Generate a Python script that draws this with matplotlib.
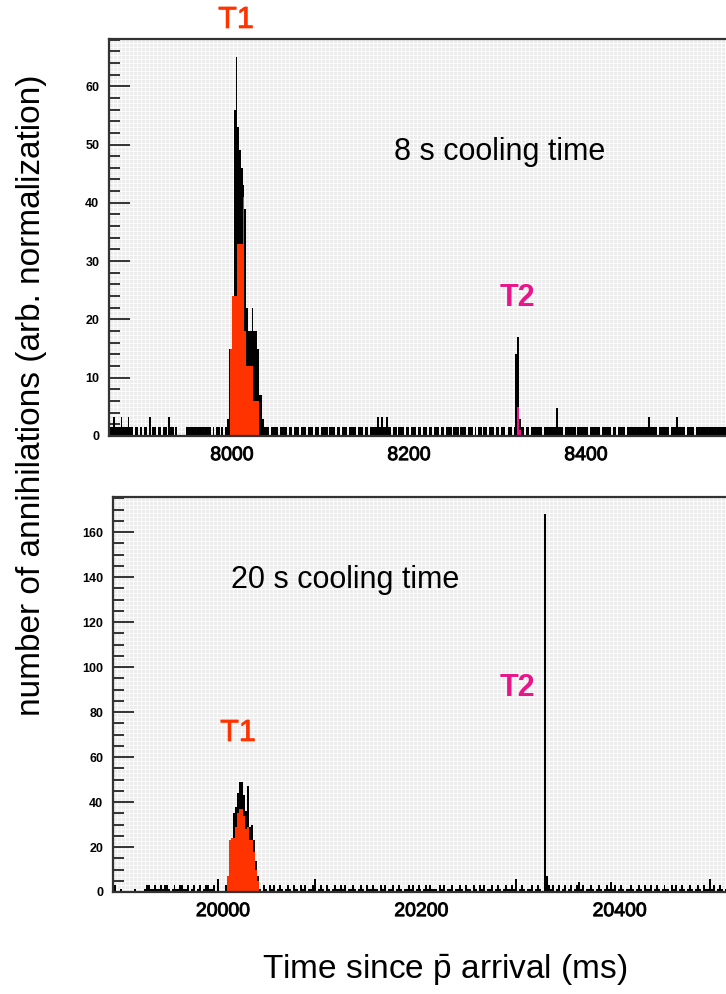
import numpy as np
import matplotlib
matplotlib.use("Agg")
import matplotlib.pyplot as plt
import matplotlib.patheffects as pe
from matplotlib.ticker import MultipleLocator

plt.rcParams["font.family"] = ["Liberation Sans", "DejaVu Sans"]
plt.rcParams["mathtext.fontset"] = "custom"
plt.rcParams["mathtext.rm"] = "Liberation Sans"

BIN_MS = 2.0

# ---- 8 s cooling time (top panel), 2 ms bins from TOP_START ----
TOP_START = 7860
TOP_NBINS = 350
TOP_NOISE_UNIT = 1.6
TOP_NOISE = [
    "21121112111211011010110201101101102110100000111111",
    "11111111010110101000000000000000000000111011110111",
    "10110111011101110110111101110110111011110111011011",
    "11212112110110111011011101101101101110110111011101",
    "11011101011011011101101100110100011011011111101111",
    "11131110111111011111101111110111110110111101111111",
    "11111211110111111011121111011110111111111111111111",
]
TOP_T1_START = 7994
TOP_T1_TOTAL = [3, 15, 15, 24, 56, 65, 53, 49, 46, 43, 39, 22, 18, 18, 22, 18, 18, 15, 7, 7, 3]
TOP_T1_TAG_START = 7998
TOP_T1_TAG = [15, 24, 24, 24, 33, 33, 33, 41, 18, 12, 12, 12, 12, 6, 6, 6]
TOP_T2_START = 8320
TOP_T2_TOTAL = [14, 17, 3]
TOP_T2_TAG_START = 8322
TOP_T2_TAG = [5, 1]

# ---- 20 s cooling time (bottom panel), 2 ms bins from BOT_START ----
BOT_START = 19888
BOT_NBINS = 310
BOT_NOISE_UNIT = 1.5
BOT_NOISE = [
    "0200100000" "0100001221" "1211212210" "1211221120" "1201201221",
    "1204000000" "0000000000" "0000102102" "1201210121" "0211021201",
    "1240121021" "0121121201" "1210121021" "1211021201" "1201210112",
    "1201210121" "2111021201" "1201121021" "1021021201" "1201210121",
    "1214012101" "1201210000" "0120120120" "1201231201" "1210121012",
    "1312012101" "1210121021" "1201210121" "1021201210" "1210121021",
    "1412012101",
]
BOT_T1_START = 20002
BOT_T1_TOTAL = [3, 7, 23, 24, 35, 38, 44, 49, 49, 43, 36, 47, 29, 30, 23, 14, 7]
BOT_T1_TAG_START = 20004
BOT_T1_TAG = [7, 23, 24, 24, 29, 35, 37, 37, 34, 28, 29, 23, 23, 18, 10, 5]
BOT_T2_START = 20324
BOT_T2_TOTAL = [168, 7, 3]

RED = "#ff3300"
MAGENTA = "#e8168a"
W, H = 726, 994


def build_counts(start, nbins, noise, unit, peaks):
    digits = [int(c) for c in "".join(noise)][:nbins]
    counts = np.zeros(nbins)
    counts[:len(digits)] = np.array(digits, float) * unit
    for p_start, p_vals in peaks:
        i = int(round((p_start - start) / BIN_MS))
        counts[i:i + len(p_vals)] = p_vals
    edges = start + BIN_MS * np.arange(nbins + 1)
    return counts, edges


def tagged(start, vals):
    edges = start + BIN_MS * np.arange(len(vals) + 1)
    return np.array(vals, float), edges


def add_texture(ax, w_px, h_px, step=4):
    tex = np.full((h_px, w_px), 0.925)
    tex[::step, :] = 0.985
    tex[:, ::step] = 0.985
    ax.imshow(tex, cmap="gray", vmin=0, vmax=1, extent=(0, 1, 0, 1),
              transform=ax.transAxes, aspect="auto",
              interpolation="nearest", zorder=0)


THICK = [pe.withStroke(linewidth=0.7, foreground="#111111")]


def style_axes(ax, xlim, ylim, yticks, yminor, xticks):
    ax.set_xlim(*xlim)
    ax.set_ylim(*ylim)
    ax.set_yticks(yticks)
    ax.set_yticklabels([str(v) for v in yticks], fontweight="bold", fontsize=9)
    ax.yaxis.set_minor_locator(MultipleLocator(yminor))
    ax.set_xticks(xticks)
    ax.set_xticklabels([str(v) for v in xticks], fontsize=14, path_effects=THICK)
    ax.tick_params(axis="y", which="major", direction="in", length=15,
                   width=1.4, pad=7, color="#333333")
    ax.tick_params(axis="y", which="minor", direction="in", length=8,
                   width=1.4, color="#333333")
    ax.tick_params(axis="x", which="both", length=0, pad=8)
    ax.spines["right"].set_visible(False)
    for s in ("left", "top", "bottom"):
        ax.spines[s].set_linewidth(1.6)
        ax.spines[s].set_color("#333333")
        ax.spines[s].set_zorder(5)


def t_label(x, y, text, color, bold=False):
    fx = [] if bold else [pe.withStroke(linewidth=0.5, foreground=color)]
    fig.text(x / W, 1 - y / H, text, color=color, ha="center", va="center",
             fontsize=22, fontweight="bold" if bold else "normal",
             path_effects=fx)


fig = plt.figure(figsize=(W / 100, H / 100), dpi=100)

# top panel
ax1 = fig.add_axes([109 / W, 1 - 436 / H, 1 - 109 / W, 397 / H])
add_texture(ax1, 617, 397)
c, e = build_counts(TOP_START, TOP_NBINS, TOP_NOISE, TOP_NOISE_UNIT,
                    [(TOP_T1_START, TOP_T1_TOTAL), (TOP_T2_START, TOP_T2_TOTAL)])
ax1.stairs(c, e, fill=True, color="black", linewidth=0.8, zorder=2)
v, e = tagged(TOP_T1_TAG_START, TOP_T1_TAG)
ax1.stairs(v, e, fill=True, color=RED, zorder=3)
v, e = tagged(TOP_T2_TAG_START, TOP_T2_TAG)
ax1.stairs(v, e, fill=True, color=MAGENTA, zorder=3)
style_axes(ax1, (7861, 8558), (0, 68.1), list(range(0, 61, 10)), 2,
           [8000, 8200, 8400])
fig.text(500 / W, 1 - 152 / H, "8 s cooling time", ha="center", va="center",
         fontsize=22)
t_label(236, 20, "T1", RED)
t_label(517, 298, "T2", MAGENTA, bold=True)

# bottom panel
ax2 = fig.add_axes([113 / W, 1 - 892 / H, 1 - 113 / W, 395 / H])
add_texture(ax2, 613, 395)
c, e = build_counts(BOT_START, BOT_NBINS, BOT_NOISE, BOT_NOISE_UNIT,
                    [(BOT_T1_START, BOT_T1_TOTAL), (BOT_T2_START, BOT_T2_TOTAL)])
ax2.stairs(c, e, fill=True, color="black", linewidth=0.8, zorder=2)
v, e = tagged(BOT_T1_TAG_START, BOT_T1_TAG)
ax2.stairs(v, e, fill=True, color=RED, zorder=3)
style_axes(ax2, (19889, 20507), (0, 175.6), list(range(0, 161, 20)), 5,
           [20000, 20200, 20400])
fig.text(345 / W, 1 - 580 / H, "20 s cooling time", ha="center", va="center",
         fontsize=22)
t_label(238, 733, "T1", RED)
t_label(517, 688, "T2", MAGENTA, bold=True)

fig.text(32 / W, 1 - 395 / H, "number of annihilations (arb. normalization)",
         rotation=90, ha="center", va="center", fontsize=24)
fig.text(445 / W, 1 - 970 / H, r"Time since $\bar{\mathrm{p}}$ arrival (ms)",
         ha="center", va="center", fontsize=24)

fig.savefig("out.png", dpi=100)
